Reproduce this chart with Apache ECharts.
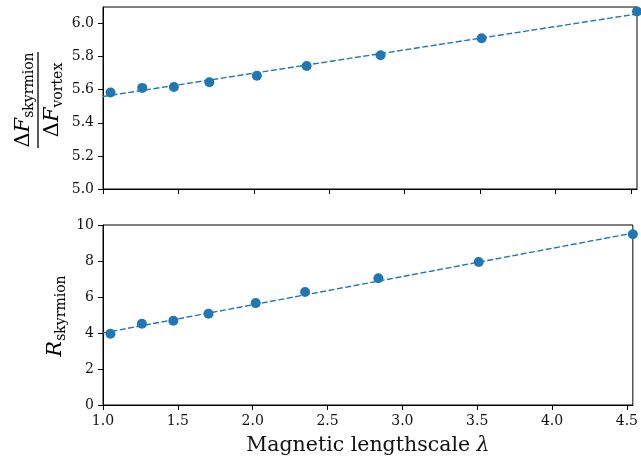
<!DOCTYPE html>
<html>
<head>
<meta charset="utf-8">
<script src="https://cdn.jsdelivr.net/npm/echarts@6/dist/echarts.min.js"></script>
<style>html,body{margin:0;padding:0;background:#fff;}#c{width:641px;height:457px;}</style>
</head>
<body>
<div id="c"></div>
<script>
// ---- data ----
const lambdaVals  = [1.05, 1.26, 1.47, 1.705, 2.02, 2.35, 2.84, 3.51, 4.54];
const energyRatio = [5.583, 5.611, 5.617, 5.645, 5.684, 5.743, 5.808, 5.911, 6.073];
const radius      = [3.96, 4.51, 4.68, 5.07, 5.66, 6.28, 7.04, 7.94, 9.49];
const fitLambda   = [1.0, 4.54];
const fitEnergy   = [5.559, 6.058];
const fitRadius   = [4.0, 9.55];
const xTicks      = [1.0, 1.5, 2.0, 2.5, 3.0, 3.5, 4.0, 4.5];
const topYTicks   = [5.0, 5.2, 5.4, 5.6, 5.8, 6.0];
const botYTicks   = [0, 2, 4, 6, 8, 10];

const BLUE = '#1f77b4';
const FONT = 'DejaVu Serif';
const zip = (a, b) => a.map((v, i) => [v, b[i]]);

const chart = echarts.init(document.getElementById('c'));

function xAxis(idx, showLabels, withName) {
  return {
    type: 'value', gridIndex: idx, min: 1.0, max: 4.54,
    axisLine: { show: true, lineStyle: { color: '#000', width: 1 } },
    axisTick: { show: true, inside: false, length: 5, customValues: xTicks, lineStyle: { color: '#000', width: 1 } },
    axisLabel: { show: showLabels, customValues: xTicks, margin: 9, fontFamily: FONT, fontSize: 14, color: '#111',
                 formatter: v => v.toFixed(1) },
    splitLine: { show: false },
    name: withName ? 'Magnetic lengthscale {i|λ}' : '',
    nameLocation: 'middle', nameGap: 30,
    nameTextStyle: { fontFamily: FONT, fontSize: 20.5, color: '#111',
      rich: { i: { fontFamily: FONT, fontStyle: 'italic', fontSize: 20.5, color: '#111' } } }
  };
}
function yAxis(idx, min, max, ticks, digits) {
  return {
    type: 'value', gridIndex: idx, min: min, max: max,
    axisLine: { show: true, lineStyle: { color: '#000', width: 1 } },
    axisTick: { show: true, inside: false, length: 5, customValues: ticks, lineStyle: { color: '#000', width: 1 } },
    axisLabel: { customValues: ticks, margin: 9, fontFamily: FONT, fontSize: 14, color: '#111',
                 formatter: v => v.toFixed(digits) },
    splitLine: { show: false }
  };
}

const bigStyle = { fontFamily: FONT, fontSize: 21, lineHeight: 24, color: '#111' };
const rich = {
  d: Object.assign({}, bigStyle),
  f: Object.assign({}, bigStyle, { fontStyle: 'italic' }),
  s: { fontFamily: FONT, fontSize: 14, lineHeight: 8, verticalAlign: 'bottom', color: '#111' }
};

chart.setOption({
  animation: false,
  grid: [
    { left: 103, right: 4, top: 7, height: 182, show: true, borderColor: '#000', borderWidth: 1 },
    { left: 103, right: 4, top: 225, height: 181, show: true, borderColor: '#000', borderWidth: 1 }
  ],
  xAxis: [xAxis(0, false, false), xAxis(1, true, true)],
  yAxis: [yAxis(0, 5.0, 6.1, topYTicks, 1), yAxis(1, 0, 10, botYTicks, 0)],
  series: [
    { type: 'line', xAxisIndex: 0, yAxisIndex: 0, data: zip(fitLambda, fitEnergy), showSymbol: false,
      lineStyle: { color: BLUE, width: 1.4, type: [6, 2.5] }, z: 2 },
    { type: 'scatter', xAxisIndex: 0, yAxisIndex: 0, data: zip(lambdaVals, energyRatio), symbolSize: 10,
      itemStyle: { color: BLUE, opacity: 1 }, z: 3 },
    { type: 'line', xAxisIndex: 1, yAxisIndex: 1, data: zip(fitLambda, fitRadius), showSymbol: false,
      lineStyle: { color: BLUE, width: 1.4, type: [6, 2.5] }, z: 2 },
    { type: 'scatter', xAxisIndex: 1, yAxisIndex: 1, data: zip(lambdaVals, radius), symbolSize: 10,
      itemStyle: { color: BLUE, opacity: 1 }, z: 3 }
  ],
  graphic: [
    { type: 'group', x: 38, y: 100, rotation: Math.PI / 2, children: [
      { type: 'text', x: 0, y: -2, style: { text: '{d|Δ}{f|F}{s|skyrmion}', rich: rich, align: 'center', verticalAlign: 'bottom' } },
      { type: 'line', shape: { x1: -48, y1: 0, x2: 48, y2: 0 }, style: { stroke: '#000', lineWidth: 1.3 } },
      { type: 'text', x: 0, y: 3, style: { text: '{d|Δ}{f|F}{s|vortex}', rich: rich, align: 'center', verticalAlign: 'top' } }
    ]},
    { type: 'group', x: 56, y: 316, rotation: Math.PI / 2, children: [
      { type: 'text', x: 0, y: 0, style: { text: '{f|R}{s|skyrmion}', rich: rich, align: 'center', verticalAlign: 'middle' } }
    ]}
  ]
});
</script>
</body>
</html>
